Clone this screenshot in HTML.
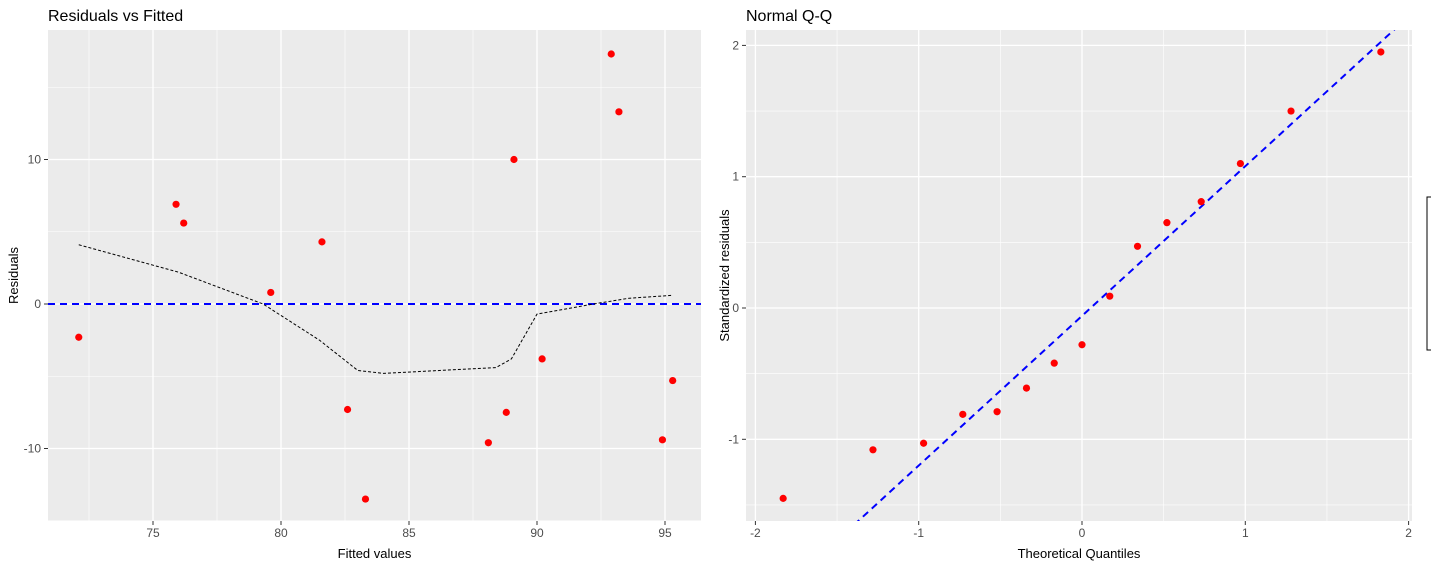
<!DOCTYPE html>
<html><head><meta charset="utf-8"><style>
html,body{margin:0;padding:0;background:#fff;width:1431px;height:565px;overflow:hidden;}
svg{display:block;font-family:"Liberation Sans",Arial,sans-serif;}
</style></head><body>
<svg id="c" width="1431" height="565" xmlns="http://www.w3.org/2000/svg"></svg>
<script>
// Residuals vs Fitted data
const rvfFitted = [72.1,75.9,76.2,79.6,81.6,82.6,83.3,88.1,88.8,89.1,90.2,92.9,93.2,94.9,95.3];
const rvfResid = [-2.3,6.9,5.6,0.8,4.3,-7.3,-13.5,-9.6,-7.5,10.0,-3.8,17.3,13.3,-9.4,-5.3];
const smoothX = [72.1,76,79.3,81.5,83,84,88.4,89,90,92.2,93.6,95.3];
const smoothY = [4.1,2.2,0,-2.5,-4.6,-4.8,-4.4,-3.8,-0.7,0,0.4,0.6];
const rvfXTicks = [75,80,85,90,95];
const rvfYTicks = [-10,0,10];
// Normal Q-Q data
const qqTheo = [-1.83,-1.28,-0.97,-0.73,-0.52,-0.34,-0.17,0,0.17,0.34,0.52,0.73,0.97,1.28,1.83];
const qqStd = [-1.45,-1.08,-1.03,-0.81,-0.79,-0.61,-0.42,-0.28,0.09,0.47,0.65,0.81,1.10,1.50,1.95];
const qqSlope = [1.14];
const qqIntercept = [-0.06];
const qqXTicks = [-2,-1,0,1,2];
const qqYTicks = [-1,0,1,2];

const NS="http://www.w3.org/2000/svg";
const svg=document.getElementById('c');
function mk(tag,attrs,parent){const e=document.createElementNS(NS,tag);for(const k in attrs)e.setAttribute(k,attrs[k]);(parent||svg).appendChild(e);return e;}

function panel(o){
  const g=mk('g',{});
  
  
  const bg=mk('rect',{x:o.x0,y:o.y0,width:o.x1-o.x0,height:o.y1-o.y0,fill:'#ebebeb'},g);
  
  
  const sx=v=>o.px0+(v-o.vx0)*o.kx, sy=v=>o.py0-(v-o.vy0)*o.ky;
  o.xMinor.forEach(v=>{const l=mk('line',{x1:sx(v),x2:sx(v),y1:o.y0,y2:o.y1,stroke:'#fff','stroke-width':0.6},g);});
  o.yMinor.forEach(v=>{const l=mk('line',{x1:o.x0,x2:o.x1,y1:sy(v),y2:sy(v),stroke:'#fff','stroke-width':0.6},g);});
  o.xt.forEach(v=>{const X=sx(v);
    const l=mk('line',{x1:X,x2:X,y1:o.y0,y2:o.y1,stroke:'#fff','stroke-width':1.3},g);
    mk('line',{x1:X,x2:X,y1:o.y1,y2:o.y1+4,stroke:'#333','stroke-width':1},g);
    const t=mk('text',{x:X,y:o.y1+16,'text-anchor':'middle','font-size':12,fill:'#4d4d4d'},g);t.textContent=String(v);
    });
  o.yt.forEach(v=>{const Y=sy(v);
    const l=mk('line',{x1:o.x0,x2:o.x1,y1:Y,y2:Y,stroke:'#fff','stroke-width':1.3},g);
    mk('line',{x1:o.x0-4,x2:o.x0,y1:Y,y2:Y,stroke:'#333','stroke-width':1},g);
    const t=mk('text',{x:o.x0-7,y:Y+4,'text-anchor':'end','font-size':12,fill:'#4d4d4d'},g);t.textContent=String(v);
    });
  const tt=mk('text',{x:o.x0,y:21,'font-size':16,fill:'#000'},g);tt.textContent=o.title;
  
  const xa=mk('text',{x:(o.x0+o.x1)/2,y:558,'text-anchor':'middle','font-size':13,fill:'#000'},g);xa.textContent=o.xl;
  
  const ya=mk('text',{x:o.ylx,y:(o.y0+o.y1)/2,'text-anchor':'middle','font-size':13,fill:'#000',transform:`rotate(-90 ${o.ylx} ${(o.y0+o.y1)/2})`},g);ya.textContent=o.yl;
  
  const clip=mk('clipPath',{id:o.name+'-clip'},g);mk('rect',{x:o.x0,y:o.y0,width:o.x1-o.x0,height:o.y1-o.y0},clip);
  const inner=mk('g',{'clip-path':`url(#${o.name}-clip)`},g);
  return {g:inner,sx,sy};
}

const L=panel({name:'residuals-vs-fitted-panel',x0:48,x1:701,y0:30,y1:521,px0:153,vx0:75,kx:25.6,py0:304,vy0:0,ky:14.45,
  xt:rvfXTicks,yt:rvfYTicks,xMinor:[72.5,77.5,82.5,87.5,92.5],yMinor:[-15,-5,5,15],
  title:'Residuals vs Fitted',xl:'Fitted values',yl:'Residuals',ylx:18});
const h0=mk('line',{x1:48,x2:701,y1:L.sy(0),y2:L.sy(0),stroke:'#0000ff','stroke-width':2,'stroke-dasharray':'7,5'},L.g);


const sm=mk('polyline',{points:smoothX.map((v,i)=>L.sx(v)+','+L.sy(smoothY[i])).join(' '),fill:'none',stroke:'#000','stroke-width':1,'stroke-dasharray':'3,2'},L.g);


rvfFitted.forEach((v,i)=>{
  const c=mk('circle',{cx:L.sx(v),cy:L.sy(rvfResid[i]),r:3.6,fill:'#ff0000'},L.g);
  
  
});

const R=panel({name:'normal-qq-panel',x0:746,x1:1412,y0:30,y1:521,px0:1082,vx0:0,kx:163.3,py0:308,vy0:0,ky:131.3,
  xt:qqXTicks,yt:qqYTicks,xMinor:[-1.5,-0.5,0.5,1.5],yMinor:[-1.5,-0.5,0.5,1.5],
  title:'Normal Q-Q',xl:'Theoretical Quantiles',yl:'Standardized residuals',ylx:729});
function qLine(x){return qqIntercept[0]+qqSlope[0]*x;}
const qa=-2.1,qb=2.1;
const ql=mk('line',{x1:R.sx(qa),y1:R.sy(qLine(qa)),x2:R.sx(qb),y2:R.sy(qLine(qb)),stroke:'#0000ff','stroke-width':2,'stroke-dasharray':'7,5'},R.g);


qqTheo.forEach((v,i)=>{
  const c=mk('circle',{cx:R.sx(v),cy:R.sy(qqStd[i]),r:3.6,fill:'#ff0000'},R.g);
  
  
});

const lg=mk('path',{d:'M1431,197 L1427,197 L1427,350 L1431,350',fill:'none',stroke:'#000','stroke-width':1});


</script>
</body></html>
